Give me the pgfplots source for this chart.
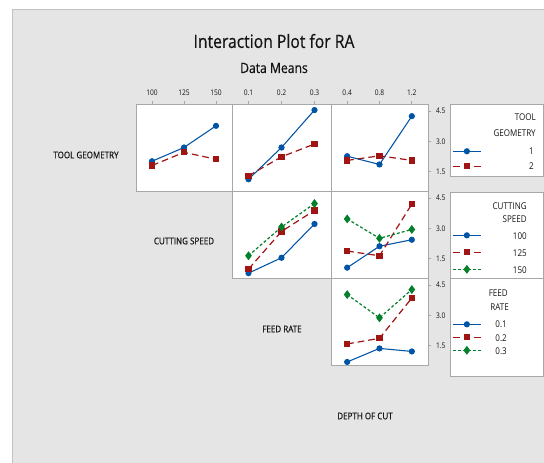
\documentclass[border=0pt]{standalone}
\usepackage{pgfplots}
\pgfplotsset{compat=1.18}
\usepackage{fontspec}
\setmainfont{Open Sans}[FakeStretch=0.86]
\newfontfamily\hvy{Open Sans}[FakeStretch=0.86, FakeBold=0.5]
\definecolor{bg}{RGB}{229,229,229}
\definecolor{frame}{RGB}{168,168,168}
\definecolor{mblue}{RGB}{0,84,166}
\definecolor{mred}{RGB}{160,20,20}
\definecolor{mgreen}{RGB}{0,128,40}
\definecolor{txt}{RGB}{20,20,20}
\pgfplotsset{
 panel/.style={scale only axis, height=65.25pt, xmin=0.5, xmax=3.5, ymin=0.55, ymax=4.85,
   axis background/.style={fill=white}, axis line style={frame, line width=0.7pt},
   tick style={frame, line width=0.6pt}, tick align=outside, major tick length=2.5pt,
   xtick=\empty, ytick=\empty,
   tick label style={font=\fontsize{5.8}{7}\selectfont, text=txt},
   /pgf/number format/assume math mode=true,
   legend image code/.code={\draw[mark repeat=2,mark phase=2] plot coordinates {(0pt,0pt)(10.5pt,0pt)(21pt,0pt)};},
 },
 toprow/.style={xtick={1,2,3}, xtick pos=upper, xticklabel pos=upper},
 rightcol/.style={ytick={1.5,3,4.5}, ytick pos=right, yticklabel pos=right, yticklabels={1.5,3.0,4.5}},
 s1/.style={mblue, line width=0.8pt, mark=*, mark size=1.9pt, mark options={solid}},
 s2/.style={mred, line width=0.9pt, dash pattern=on 5pt off 3pt, mark=square*, mark size=1.9pt, mark options={solid}},
 s3/.style={mgreen, line width=0.9pt, dash pattern=on 2.2pt off 1.6pt, mark=diamond*, mark size=2.6pt, mark options={solid}},
 leg/.style n args={2}{legend style={at={(1,1)}, anchor=north west, xshift=18pt, yshift=#1, draw=none, fill=none,
   inner sep=0pt, row sep=#2, column sep=0pt,
   nodes={inner sep=0pt, text height=5pt, text depth=1.5pt, text width=0pt}},
   legend cell align=left},
}
\begin{document}
\begin{tikzpicture}[x=0.75pt,y=-0.75pt]
\useasboundingbox (0,0) rectangle (544,463);
\fill[white] (0,0) rectangle (544,463);
\filldraw[fill=bg, draw=frame!70, line width=0.4pt] (12,9) rectangle (546,465);
% legend frames
\filldraw[fill=white, draw=frame, line width=0.6pt] (450,104) rectangle (543,176);
\filldraw[fill=white, draw=frame, line width=0.6pt] (450,192) rectangle (543,278);
\filldraw[fill=white, draw=frame, line width=0.6pt] (450,278) rectangle (543,376);
\node[font=\hvy\fontsize{13.7}{16}\selectfont, text=txt] at (274,41) {Interaction Plot for RA};
\node[font=\hvy\fontsize{10.6}{13}\selectfont, text=txt] at (274,68) {Data Means};
\node[font=\hvy\fontsize{7}{9}\selectfont, text=txt] at (86,155) {TOOL GEOMETRY};
\node[font=\hvy\fontsize{7}{9}\selectfont, text=txt] at (184,241) {CUTTING SPEED};
\node[font=\hvy\fontsize{7}{9}\selectfont, text=txt] at (282,329) {FEED RATE};
\node[font=\hvy\fontsize{7}{9}\selectfont, text=txt] at (365,416) {DEPTH OF CUT};
% legend texts
\begin{scope}[every node/.style={font=\fontsize{7}{8}\selectfont, text=txt, anchor=east, inner sep=0pt}]
\node at (536,117) {TOOL};
\node at (536,133) {GEOMETRY};
\node at (534,151) {1};
\node at (534,166) {2};
\node at (527,206) {CUTTING};
\node at (527,219) {SPEED};
\node at (527,236) {100};
\node at (527,253) {125};
\node at (527,270) {150};
\node at (508,293) {FEED};
\node at (509,307) {RATE};
\node at (507,324) {0.1};
\node at (507,338) {0.2};
\node at (507,351) {0.3};
\end{scope}

% Row 1, col 1: TOOL GEOMETRY x CUTTING SPEED
\begin{axis}[panel, toprow, width=72pt, xticklabels={100,125,150}, at={(102pt,-143.25pt)}, anchor=south west]
\addplot[s1] coordinates {(1,2.02) (2,2.70) (3,3.77)};
\addplot[s2] coordinates {(1,1.81) (2,2.46) (3,2.12)};
\end{axis}
% Row 1, col 2: TOOL GEOMETRY x FEED RATE
\begin{axis}[panel, toprow, width=74.25pt, xticklabels={0.1,0.2,0.3}, at={(174pt,-143.25pt)}, anchor=south west]
\addplot[s1] coordinates {(1,1.13) (2,2.70) (3,4.55)};
\addplot[s2] coordinates {(1,1.30) (2,2.24) (3,2.87)};
\end{axis}
% Row 1, col 3: TOOL GEOMETRY x DEPTH OF CUT
\begin{axis}[panel, toprow, rightcol, leg={-32pt}{4.75pt}, width=72.75pt, xticklabels={0.4,0.8,1.2}, at={(248.25pt,-143.25pt)}, anchor=south west]
\addplot[s1] coordinates {(1,2.27) (2,1.86) (3,4.25)};\addlegendentry{\mbox{}}
\addplot[s2] coordinates {(1,2.06) (2,2.29) (3,2.06)};\addlegendentry{\mbox{}}
\end{axis}
% Row 2, col 2: CUTTING SPEED x FEED RATE
\begin{axis}[panel, width=74.25pt, at={(174pt,-208.5pt)}, anchor=south west]
\addplot[s1] coordinates {(1,0.79) (2,1.55) (3,3.22)};
\addplot[s2] coordinates {(1,0.99) (2,2.85) (3,3.89)};
\addplot[s3] coordinates {(1,1.65) (2,3.07) (3,4.23)};
\end{axis}
% Row 2, col 3: CUTTING SPEED x DEPTH OF CUT
\begin{axis}[panel, rightcol, leg={-29.8pt}{6.25pt}, width=72.75pt, at={(248.25pt,-208.5pt)}, anchor=south west]
\addplot[s1] coordinates {(1,1.06) (2,2.12) (3,2.44)};\addlegendentry{\mbox{}}
\addplot[s2] coordinates {(1,1.88) (2,1.65) (3,4.20)};\addlegendentry{\mbox{}}
\addplot[s3] coordinates {(1,3.47) (2,2.51) (3,2.95)};\addlegendentry{\mbox{}}
\end{axis}
% Row 3, col 3: FEED RATE x DEPTH OF CUT
\begin{axis}[panel, rightcol, leg={-31.3pt}{3.25pt}, width=72.75pt, at={(248.25pt,-273.75pt)}, anchor=south west]
\addplot[s1] coordinates {(1,0.70) (2,1.37) (3,1.22)};\addlegendentry{\mbox{}}
\addplot[s2] coordinates {(1,1.59) (2,1.87) (3,3.86)};\addlegendentry{\mbox{}}
\addplot[s3] coordinates {(1,4.03) (2,2.88) (3,4.28)};\addlegendentry{\mbox{}}
\end{axis}
\end{tikzpicture}
\end{document}
